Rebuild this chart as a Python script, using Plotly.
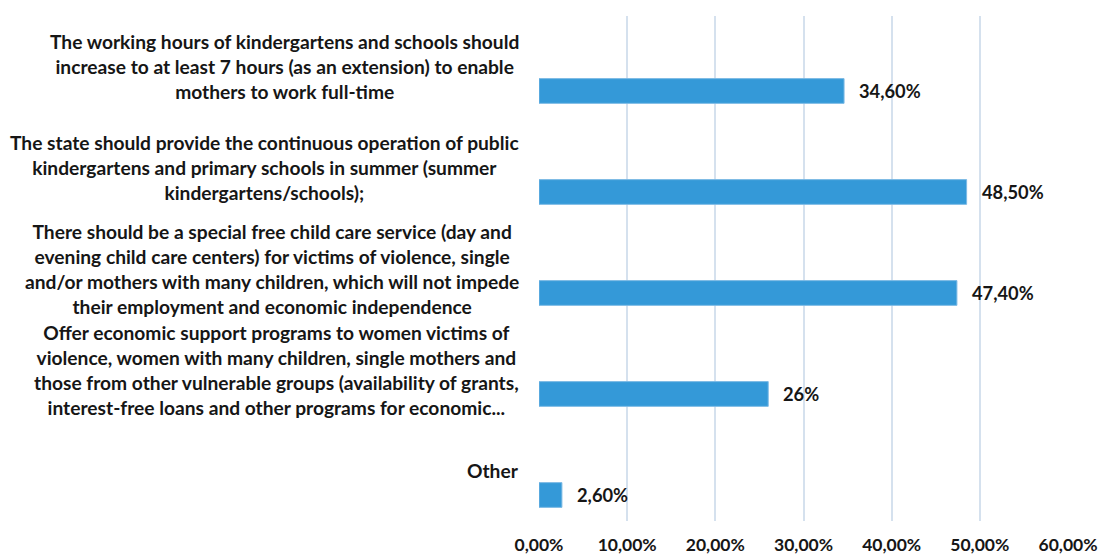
import plotly.graph_objects as go

categories = [
    "The working hours of kindergartens and schools should<br>increase to at least 7 hours (as an extension) to enable<br>mothers to work full-time",
    "The state should provide the continuous operation of public<br>kindergartens and primary schools in summer (summer<br>kindergartens/schools);",
    "There should be a special free child care service (day and<br>evening child care centers) for victims of violence, single<br>and/or mothers with many children, which will not impede<br>their employment and economic independence",
    "Offer economic support programs to women victims of<br>violence, women with many children, single mothers and<br>those from other vulnerable groups (availability of grants,<br>interest-free loans and other programs for economic...",
    "Other",
]
values = [34.6, 48.5, 47.4, 26.0, 2.6]
value_labels = ["34,60%", "48,50%", "47,40%", "26%", "2,60%"]
tick_values = [0, 10, 20, 30, 40, 50, 60]
tick_labels = ["0,00%", "10,00%", "20,00%", "30,00%", "40,00%", "50,00%", "60,00%"]

cat_ids = [f"c{i}" for i in range(len(categories))]

FONT = "Lato"
TXT = "#161616"
fig = go.Figure()
fig.add_trace(go.Bar(
    y=cat_ids, x=values, orientation="h",
    offset=0.12, width=0.245,
    marker=dict(color="#3499D8", line=dict(color="#7DBAE5", width=1)),
    hoverinfo="x",
))

# category labels (block right-aligned, lines centered)
for cid, lab in zip(cat_ids, categories):
    fig.add_annotation(
        x=0, xref="paper", xanchor="right", xshift=-18,
        y=cid, yref="y", yanchor="middle",
        text=f"<b>{lab}</b>", showarrow=False, align="center",
        font=dict(family=FONT, size=19.2, color=TXT),
    )

# value labels
for cid, v, t in zip(cat_ids, values, value_labels):
    fig.add_annotation(
        x=v, xref="x", xanchor="left", xshift=13,
        y=cid, yref="y", yanchor="middle", yshift=-24,
        text=f"<b>{t}</b>", showarrow=False,
        font=dict(family=FONT, size=18.3, color=TXT),
    )

fig.update_layout(
    width=1102, height=555,
    margin=dict(l=539, r=34, t=16, b=34, autoexpand=False),
    paper_bgcolor="white", plot_bgcolor="white",
    showlegend=False,
    xaxis=dict(
        range=[0, 60], tickvals=tick_values,
        ticktext=[f"<b>{t}</b>" for t in tick_labels],
        showgrid=True, gridcolor="#D5E1EE", gridwidth=1.5,
        zeroline=False, showline=False, automargin=False,
        tickfont=dict(family=FONT, size=17.5, color=TXT),
        ticklabelstandoff=11,
    ),
    yaxis=dict(
        categoryorder="array", categoryarray=cat_ids,
        range=[4.5, -0.5], showticklabels=False, automargin=False,
        showgrid=False, zeroline=False, showline=False,
    ),
    font=dict(family=FONT),
)

fig.write_html("out.html")
